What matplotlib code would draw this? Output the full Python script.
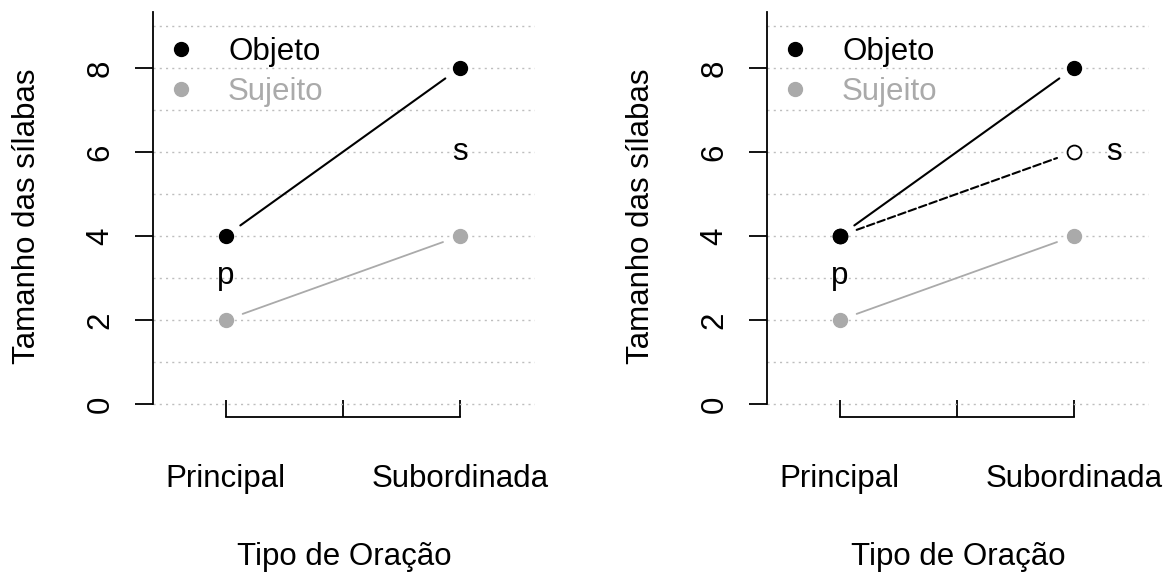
import matplotlib.pyplot as plt
from matplotlib.lines import Line2D

# dados
categorias = ["Principal", "Subordinada"]
x_pos = [1, 2]
objeto = [4, 8]
sujeito = [2, 4]
hipotese = [4, 6]   # linha tracejada (só no painel da direita)
y_ticks = [0, 2, 4, 6, 8]

plt.rcParams['font.family'] = ['Liberation Sans', 'DejaVu Sans']
plt.rcParams['font.size'] = 22.5

cinza = "#AAAAAA"
grade = "#BEBEBE"

fig = plt.figure(figsize=(11.72, 5.72), dpi=100)
ax1 = fig.add_axes([153 / 1172, 1 - 420 / 572, 382 / 1172, 408 / 572])
ax2 = fig.add_axes([767 / 1172, 1 - 420 / 572, 382 / 1172, 408 / 572])


def ligar(ax, xs, ys, **kw):
    # segmento com folga em volta dos pontos (como type="b" do R)
    ax.annotate("", xy=(xs[1], ys[1]), xytext=(xs[0], ys[0]),
                arrowprops=dict(arrowstyle="-", shrinkA=13, shrinkB=13, **kw))


def painel(ax, s_x):
    ax.set_xlim(0.69, 2.32)
    ax.set_ylim(-0.38, 9.33)
    for sp in ["top", "right"]:
        ax.spines[sp].set_visible(False)
    ax.spines["left"].set_bounds(0, 9.33)
    ax.spines["left"].set_linewidth(1.3)
    ax.spines["bottom"].set_position(("data", -0.31))
    ax.spines["bottom"].set_bounds(1, 2)
    ax.spines["bottom"].set_linewidth(1.3)

    ax.set_yticks(y_ticks)
    ax.set_yticks(range(0, 10), minor=True)
    ax.tick_params(axis="y", which="major", direction="out", length=13, width=1.3, pad=14)
    ax.tick_params(axis="y", which="minor", length=0)
    for lb in ax.get_yticklabels():
        lb.set_rotation(90)
        lb.set_va("center")
    ax.grid(axis="y", which="both", color=grade, linestyle=(0, (1.5, 3)), linewidth=1)
    ax.set_axisbelow(True)

    ax.set_xticks([1, 1.5, 2])
    ax.set_xticklabels([categorias[0], "", categorias[1]])
    ax.tick_params(axis="x", direction="in", length=12, width=1.3, pad=34)

    ax.set_ylabel("Tamanho das sílabas")
    ax.yaxis.set_label_coords(-0.29, 0.5)
    ax.set_xlabel("Tipo de Oração", labelpad=34)

    ligar(ax, x_pos, objeto, color="black", lw=1.5)
    ligar(ax, x_pos, sujeito, color=cinza, lw=1.3)
    ax.plot(x_pos, objeto, "o", color="black", ms=10, zorder=5)
    ax.plot(x_pos, sujeito, "o", color=cinza, ms=10, zorder=5)

    ax.text(1, 3.05, "p", ha="center", va="center")
    ax.text(s_x, 6, "s", ha="center", va="center")

    hs = [Line2D([], [], marker="o", ls="", color="black", ms=10),
          Line2D([], [], marker="o", ls="", color=cinza, ms=10)]
    ax.legend(hs, ["Objeto", "Sujeito"], loc="upper left", bbox_to_anchor=(0.0, 0.97),
              frameon=False, handlelength=1, handletextpad=1.0, labelspacing=0.33,
              labelcolor=["black", cinza], borderaxespad=0)


painel(ax1, 2)
painel(ax2, 2.17)

# hipótese: linha tracejada com círculo aberto
ligar(ax2, x_pos, hipotese, color="black", lw=1.5, linestyle="--")
ax2.plot(x_pos, hipotese, "o", mfc="white", mec="black", ms=10, mew=1.3, zorder=4)
ax2.plot(x_pos[:1], hipotese[:1], "o", color="black", ms=10, zorder=6)

fig.savefig("out.png", dpi=100)
